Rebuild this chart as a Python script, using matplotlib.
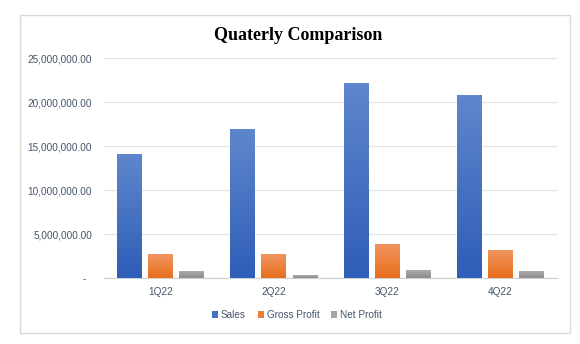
import matplotlib
matplotlib.use("Agg")
import matplotlib.pyplot as plt
import numpy as np
from matplotlib.colors import LinearSegmentedColormap
from matplotlib.patches import Rectangle
from matplotlib.ticker import FuncFormatter

quarters = ["1Q22", "2Q22", "3Q22", "4Q22"]
sales = [14_000_000, 16_850_000, 22_050_000, 20_700_000]
gross_profit = [2_650_000, 2_650_000, 3_800_000, 3_080_000]
net_profit = [720_000, 260_000, 830_000, 720_000]

series = [
    ("Sales", sales, "#4472C4", "#5E86CC", "#2F5EB8"),
    ("Gross Profit", gross_profit, "#ED7D31", "#F19560", "#E86E1C"),
    ("Net Profit", net_profit, "#A5A5A5", "#ABABAB", "#8C8C8C"),
]
text_color = "#44546A"

fig = plt.figure(figsize=(5.8, 3.44), dpi=100)
fig.patches.append(Rectangle((20 / 580, 1 - 333 / 344), 550 / 580, 318 / 344,
                             transform=fig.transFigure, fill=False,
                             edgecolor="#D9D9D9", linewidth=1.0))

ax = fig.add_axes([104 / 580, 1 - 278 / 344, 453 / 580, 220 / 344])

x = np.arange(len(quarters))
width = 0.22
step = 0.275
grad = np.linspace(1, 0, 64).reshape(-1, 1)

handles = []
for i, (name, vals, base, top, bottom) in enumerate(series):
    cmap = LinearSegmentedColormap.from_list(name, [bottom, top])
    bars = ax.bar(x + (i - 1) * step, vals, width, color=base, label=name, zorder=2)
    # vertical gradient fill over each bar
    for b in bars:
        x0, y0 = b.get_x(), b.get_y()
        ax.imshow(grad, cmap=cmap, aspect="auto", zorder=3,
                  extent=[x0, x0 + b.get_width(), y0, y0 + b.get_height()],
                  interpolation="bilinear")
    handles.append(bars)

ax.set_xlim(-0.5, len(quarters) - 0.5)
ax.set_ylim(0, 25_000_000)
ax.set_yticks(np.arange(0, 25_000_001, 5_000_000))
ax.yaxis.set_major_formatter(FuncFormatter(
    lambda v, _: "-  " if v == 0 else f"{v:,.2f}"))
ax.set_xticks(x)
ax.set_xticklabels(quarters)

for s in ["top", "right", "left"]:
    ax.spines[s].set_visible(False)
ax.spines["bottom"].set_color("#D0D0D0")
ax.grid(axis="y", color="#E3E3E3", linewidth=0.9, zorder=0)
ax.set_axisbelow(True)
ax.tick_params(length=0, labelsize=7.2, labelcolor=text_color)
ax.tick_params(axis="x", pad=6.5)
ax.tick_params(axis="y", pad=8.5)
for lbl in ax.get_xticklabels() + ax.get_yticklabels():
    lbl.set_fontfamily("Liberation Sans")

fig.text(298 / 580, 1 - 35 / 344, "Quaterly Comparison", ha="center", va="center",
         fontsize=13, fontweight="bold", family="Liberation Serif")

fig.legend(handles, [s[0] for s in series], loc="center",
           bbox_to_anchor=(297 / 580, 1 - 315 / 344), ncol=3, frameon=False,
           handlelength=0.6, handleheight=0.6, handletextpad=0.3, columnspacing=1.2,
           prop={"family": "Liberation Sans", "size": 7.2}, labelcolor=text_color)

fig.savefig("out.png", dpi=100)
